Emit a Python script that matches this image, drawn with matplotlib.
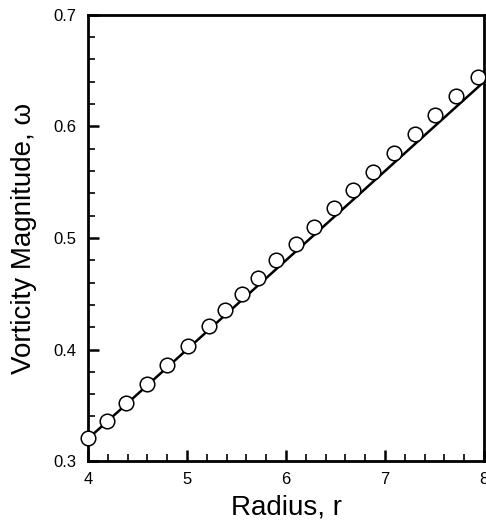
import matplotlib
matplotlib.use("Agg")
import matplotlib.pyplot as plt
from matplotlib.ticker import MultipleLocator

plt.rcParams['font.family'] = ['Liberation Sans', 'DejaVu Sans']

# data
r_pts = [4.0, 4.19, 4.38, 4.6, 4.8, 5.01, 5.22, 5.38, 5.56, 5.72, 5.9, 6.1,
         6.28, 6.48, 6.68, 6.88, 7.09, 7.3, 7.5, 7.72, 7.94]
w_pts = [0.321, 0.336, 0.352, 0.369, 0.386, 0.403, 0.421, 0.435, 0.450, 0.464,
         0.480, 0.495, 0.510, 0.527, 0.543, 0.559, 0.576, 0.593, 0.610, 0.627, 0.644]
r_line = [4.0, 8.0]
w_line = [0.32, 0.64]

fig = plt.figure(figsize=(4.86, 5.27), dpi=100)
ax = fig.add_axes([0.181, 0.125, 0.815, 0.847])

ax.plot(r_line, w_line, color='black', lw=1.8, zorder=2)
ax.plot(r_pts, w_pts, 'o', ms=10.5, mfc='white', mec='black', mew=1.1,
        clip_on=False, zorder=3)

ax.set_xlim(4, 8)
ax.set_ylim(0.3, 0.7)
ax.xaxis.set_major_locator(MultipleLocator(1))
ax.xaxis.set_minor_locator(MultipleLocator(0.2))
ax.yaxis.set_major_locator(MultipleLocator(0.1))
ax.yaxis.set_minor_locator(MultipleLocator(0.02))
ax.set_yticks([0.3, 0.4, 0.5, 0.6, 0.7])
ax.set_yticklabels(['0.3', '0.4', '0.5', '0.6', '0.7'])
ax.tick_params(which='both', direction='in', top=False, right=False, labelsize=12)
ax.tick_params(which='major', length=8, width=1.8, pad=8)
ax.tick_params(which='minor', length=5, width=1.2)
for s in ax.spines.values():
    s.set_linewidth(2)

ax.set_xlabel('Radius, r', fontsize=20, labelpad=5)
ax.set_ylabel('Vorticity Magnitude, ω', fontsize=20, labelpad=12)

fig.savefig('out.png', dpi=100)
